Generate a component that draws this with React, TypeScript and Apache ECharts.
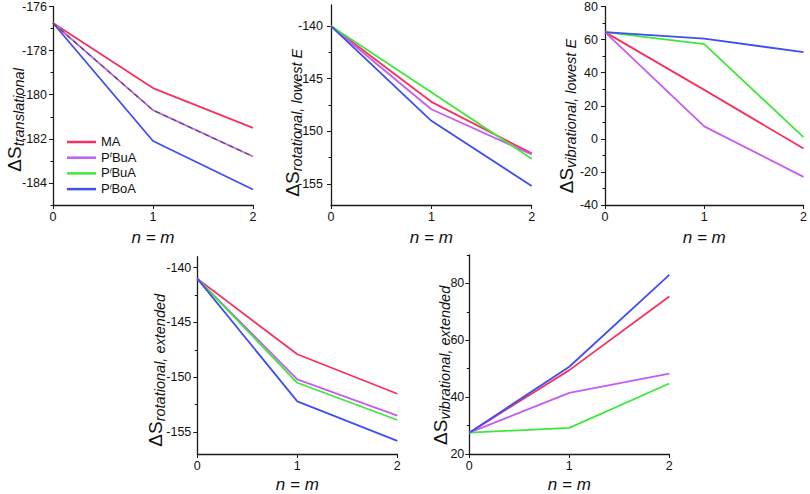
import React, { useEffect, useRef } from "react";
import * as echarts from "echarts";

const xValues = [0, 1, 2];
const seriesNames = ["MA", "PtBuA", "PiBuA", "PiBoA"];
const seriesColors = ["#f5325f", "#c65cf2", "#3ee83a", "#3f4ff0"];

// Panel 1: ΔS translational
const transMA = [-176.75, -179.7, -181.5];
const transPtBuA = [-176.75, -180.7, -182.8];
const transPiBuA = [-176.75, -180.7, -182.8];
const transPiBoA = [-176.75, -182.1, -184.3];

// Panel 2: ΔS rotational, lowest E
const rotLowMA = [-140, -147.2, -152.1];
const rotLowPtBuA = [-140, -147.9, -152.2];
const rotLowPiBuA = [-140, -146.3, -152.6];
const rotLowPiBoA = [-140, -149.0, -155.2];

// Panel 3: ΔS vibrational, lowest E
const vibLowMA = [64.5, 29.6, -5.8];
const vibLowPtBuA = [64.5, 7.5, -23];
const vibLowPiBuA = [64.5, 57.2, 1];
const vibLowPiBoA = [64.5, 60.6, 52.4];

// Panel 4: ΔS rotational, extended
const rotExtMA = [-141, -147.9, -151.5];
const rotExtPtBuA = [-141, -150.2, -153.5];
const rotExtPiBuA = [-141, -150.5, -153.9];
const rotExtPiBoA = [-141, -152.2, -155.8];

// Panel 5: ΔS vibrational, extended
const vibExtMA = [27.5, 49.5, 75.4];
const vibExtPtBuA = [27.5, 41.5, 48.3];
const vibExtPiBuA = [27.5, 29.2, 44.8];
const vibExtPiBoA = [27.5, 50.7, 83];

// Axis ranges and ticks
const yMin = [-185, -157, -40, -157, 20];
const yMax = [-176, -138, 80, -139, 90];
const yMajor = [
  [-176, -178, -180, -182, -184],
  [-140, -145, -150, -155],
  [80, 60, 40, 20, 0, -20, -40],
  [-140, -145, -150, -155],
  [20, 40, 60, 80],
];
const yMinor = [
  [-177, -179, -181, -183, -185],
  [-142.5, -147.5, -152.5],
  [70, 50, 30, 10, -10, -30],
  [-142.5, -147.5, -152.5],
  [30, 50, 70, 90],
];
const yMainSymbol = "ΔS";
const ySubscripts = [
  "translational",
  "rotational, lowest E",
  "vibrational, lowest E",
  "rotational, extended",
  "vibrational, extended",
];
const xTitle = "n = m";

const panelData = [
  [transMA, transPtBuA, transPiBuA, transPiBoA],
  [rotLowMA, rotLowPtBuA, rotLowPiBuA, rotLowPiBoA],
  [vibLowMA, vibLowPtBuA, vibLowPiBuA, vibLowPiBoA],
  [rotExtMA, rotExtPtBuA, rotExtPiBuA, rotExtPiBoA],
  [vibExtMA, vibExtPtBuA, vibExtPiBuA, vibExtPiBoA],
];

// layout (pixels)
const grids = [
  { left: 53, top: 6, width: 200, height: 199 },
  { left: 331, top: 5, width: 200.7, height: 200 },
  { left: 605, top: 6, width: 200, height: 199 },
  { left: 197.3, top: 256.7, width: 200, height: 198.3 },
  { left: 469.3, top: 255, width: 200, height: 200.7 },
];
const labelMargins = [6, 8, 7, 6, 5];
const xNameGaps = [24, 24, 24, 22, 22];
// baseline x of "ΔS" (rotated) and bottom end y of the title
const titlePos = [
  { bx: 20.7, y: 171.7 },
  { bx: 298.7, y: 196.7 },
  { bx: 572.7, y: 193.3 },
  { bx: 161.7, y: 446.7 },
  { bx: 447, y: 445 },
];
const MAIN_SIZE = 19;
const SUB_SIZE = 14.5;
const MAIN_WIDTH = 25.4;

const FONT = "'Liberation Sans', Arial, Helvetica, sans-serif";
const AXIS_COLOR = "#1a1a1a";
const TEXT_COLOR = "#111";

const legendLabels: Record<string, string> = {
  MA: "{n|MA}",
  PtBuA: "{n|P}{sup|t}{n|BuA}",
  PiBuA: "{n|P}{sup|i}{n|BuA}",
  PiBoA: "{n|P}{sup|i}{n|BoA}",
};

export default function App() {
  const ref = useRef<HTMLDivElement>(null);

  useEffect(() => {
    if (!ref.current) return;
    const chart = echarts.init(ref.current, undefined, { renderer: "svg" });

    const xAxis: any[] = [];
    const yAxis: any[] = [];
    const series: any[] = [];
    const graphic: any[] = [];

    grids.forEach((g, p) => {
      xAxis.push({
        type: "value",
        gridIndex: p,
        min: 0,
        max: 2,
        interval: 1,
        name: xTitle,
        nameLocation: "middle",
        nameGap: xNameGaps[p],
        nameTextStyle: {
          fontFamily: FONT,
          fontSize: 17,
          fontStyle: "italic",
          color: TEXT_COLOR,
        },
        axisLine: { show: true, onZero: false, lineStyle: { color: AXIS_COLOR, width: 1.3 } },
        axisTick: { show: true, inside: false, length: 4, lineStyle: { color: AXIS_COLOR, width: 1 } },
        axisLabel: {
          margin: 5,
          fontFamily: FONT,
          fontSize: 12.5,
          color: TEXT_COLOR,
          showMinLabel: true,
          showMaxLabel: true,
        },
        splitLine: { show: false },
      });

      // main y axis
      yAxis.push({
        type: "value",
        gridIndex: p,
        min: yMin[p],
        max: yMax[p],
        axisLine: { show: true, onZero: false, lineStyle: { color: AXIS_COLOR, width: 1.3 } },
        axisTick: {
          show: true,
          length: 4,
          customValues: yMajor[p],
          lineStyle: { color: AXIS_COLOR, width: 1 },
        },
        axisLabel: {
          margin: labelMargins[p],
          customValues: yMajor[p],
          fontFamily: FONT,
          fontSize: 12.5,
          color: TEXT_COLOR,
        },
        splitLine: { show: false },
      });
      // minor tick y axis
      yAxis.push({
        type: "value",
        gridIndex: p,
        min: yMin[p],
        max: yMax[p],
        position: "left",
        axisLine: { show: false, onZero: false },
        axisTick: {
          show: true,
          length: 2.5,
          customValues: yMinor[p],
          lineStyle: { color: AXIS_COLOR, width: 1 },
        },
        axisLabel: { show: false },
        splitLine: { show: false },
      });

      panelData[p].forEach((vals, s) => {
        const dashedOverlap = p === 0 && s === 2;
        series.push({
          name: seriesNames[s],
          type: "line",
          xAxisIndex: p,
          yAxisIndex: p * 2,
          data: xValues.map((x, i) => [x, vals[i]]),
          symbol: "none",
          showSymbol: false,
          silent: true,
          color: seriesColors[s],
          z: dashedOverlap ? 5 : 2,
          lineStyle: dashedOverlap
            ? { color: "#3b5a3b", width: 1.1, type: [5, 4] }
            : { color: seriesColors[s], width: 1.8 },
        });
      });

      const tp = titlePos[p];
      graphic.push({
        type: "text",
        x: tp.bx - 0.347 * MAIN_SIZE,
        y: tp.y,
        rotation: Math.PI / 2,
        style: {
          text: yMainSymbol,
          fontFamily: FONT,
          fontSize: MAIN_SIZE,
          align: "left",
          verticalAlign: "middle",
          fill: TEXT_COLOR,
        },
      });
      graphic.push({
        type: "text",
        x: tp.bx + 3.3 - 0.347 * SUB_SIZE,
        y: tp.y - MAIN_WIDTH,
        rotation: Math.PI / 2,
        style: {
          text: ySubscripts[p],
          fontFamily: FONT,
          fontSize: SUB_SIZE,
          fontStyle: "italic",
          align: "left",
          verticalAlign: "middle",
          fill: TEXT_COLOR,
        },
      });
    });

    chart.setOption({
      animation: false,
      backgroundColor: "#ffffff",
      grid: grids.map((g) => ({ ...g, containLabel: false })),
      xAxis,
      yAxis,
      series,
      graphic,
      legend: {
        data: seriesNames.map((n, i) => ({
          name: n,
          itemStyle: { color: seriesColors[i] },
        })),
        orient: "vertical",
        left: 62,
        top: 130,
        icon: "rect",
        itemWidth: 29,
        itemHeight: 2.5,
        itemGap: 2.7,
        selectedMode: false,
        formatter: (name: string) => legendLabels[name] || name,
        textStyle: {
          fontFamily: FONT,
          fontSize: 13,
          color: TEXT_COLOR,
          rich: {
            n: {
              fontFamily: FONT,
              fontSize: 13,
              lineHeight: 14,
              verticalAlign: "top",
              color: TEXT_COLOR,
            },
            sup: {
              fontFamily: FONT,
              fontSize: 8,
              fontStyle: "italic",
              lineHeight: 8,
              verticalAlign: "top",
              color: TEXT_COLOR,
            },
          },
        },
      },
    });

    return () => chart.dispose();
  }, []);

  return (
    <div
      ref={ref}
      style={{ position: "absolute", left: 0, top: 0, width: 810, height: 494, background: "#fff" }}
    />
  );
}
